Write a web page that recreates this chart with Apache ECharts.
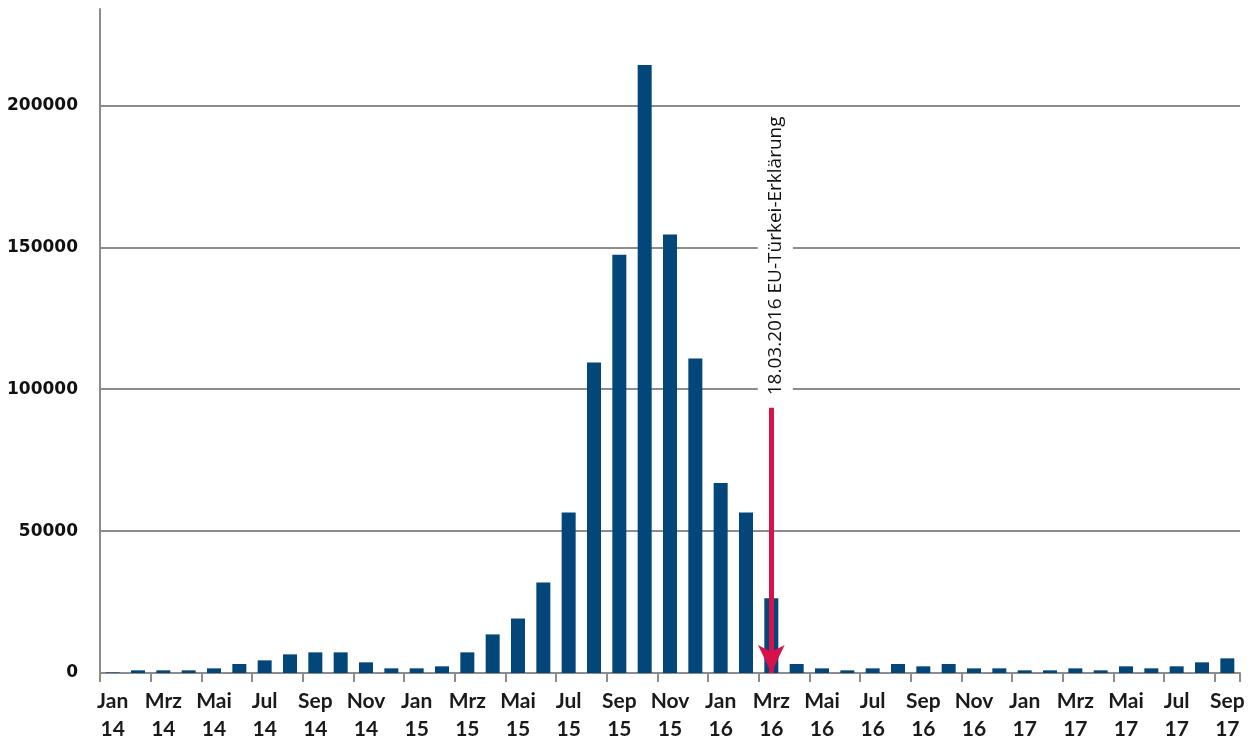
<!DOCTYPE html>
<html>
<head>
<meta charset="utf-8">
<script src="https://cdn.jsdelivr.net/npm/echarts@6/dist/echarts.min.js"></script>
<style>
html,body{margin:0;padding:0;background:#fff;}
#chart{width:1254px;height:743px;}
</style>
</head>
<body>
<div id="chart"></div>
<script>
// Categories: months Jan 2014 – Sep 2017
const categories = [
  'Jan\n14','Feb\n14','Mrz\n14','Apr\n14','Mai\n14','Jun\n14','Jul\n14','Aug\n14','Sep\n14','Okt\n14','Nov\n14','Dez\n14',
  'Jan\n15','Feb\n15','Mrz\n15','Apr\n15','Mai\n15','Jun\n15','Jul\n15','Aug\n15','Sep\n15','Okt\n15','Nov\n15','Dez\n15',
  'Jan\n16','Feb\n16','Mrz\n16','Apr\n16','Mai\n16','Jun\n16','Jul\n16','Aug\n16','Sep\n16','Okt\n16','Nov\n16','Dez\n16',
  'Jan\n17','Feb\n17','Mrz\n17','Apr\n17','Mai\n17','Jun\n17','Jul\n17','Aug\n17','Sep\n17'
];
// Monthly arrivals
const arrivals = [
  200, 940, 940, 940, 1640, 3170, 4460, 6570, 7280, 7280, 3760, 1640,
  1640, 2350, 7280, 13600, 19200, 31900, 56600, 109400, 147400, 214300, 154500, 110800,
  67000, 56600, 26300, 3170, 1640, 940, 1640, 3170, 2350, 3170, 1640, 1640,
  940, 940, 1640, 940, 2350, 1640, 2350, 3760, 5160
];
// Y-axis ticks
const yTicks = [0, 50000, 100000, 150000, 200000];
// Annotation
const eventCategory = 'Mrz\n16';
const eventLabel = '18.03.2016 EU-Türkei-Erklärung';
const arrowTop = 93450;
const labelCenter = 147000;

const chart = echarts.init(document.getElementById('chart'), null, {renderer: 'canvas'});
chart.setOption({
  animation: false,
  backgroundColor: '#ffffff',
  grid: {left: 100, right: 14, top: 9, bottom: 70, containLabel: false},
  xAxis: {
    type: 'category',
    data: categories,
    boundaryGap: true,
    axisLine: {show: true, lineStyle: {color: '#8c8c8c', width: 2}},
    axisTick: {show: true, interval: 1, length: 9, lineStyle: {color: '#8c8c8c', width: 2}},
    axisLabel: {
      interval: 1,
      margin: 14,
      color: '#1a1a1a',
      fontFamily: 'Lato',
      fontWeight: 'bold',
      fontSize: 21,
      lineHeight: 28
    },
    splitLine: {show: false}
  },
  yAxis: {
    type: 'value',
    min: 0,
    max: 234000,
    interval: 50000,
    axisLine: {show: true, lineStyle: {color: '#8c8c8c', width: 2}},
    axisTick: {show: false},
    axisLabel: {
      showMaxLabel: false,
      margin: 22,
      color: '#111111',
      fontFamily: '"DejaVu Sans", Verdana, sans-serif',
      fontWeight: 'bold',
      fontSize: 17,
      formatter: v => yTicks.indexOf(v) >= 0 ? String(v) : ''
    },
    splitLine: {show: true, showMaxLine: false, lineStyle: {color: '#8c8c8c', width: 2}}
  },
  series: [{
    type: 'bar',
    data: arrivals,
    barWidth: 14,
    itemStyle: {color: '#03467a'},
    markLine: {
      silent: true,
      symbol: ['none', 'arrow'],
      symbolSize: [20, 28],
      lineStyle: {color: '#d6124a', width: 5, type: 'solid'},
      label: {show: false},
      data: [[
        {coord: [eventCategory, arrowTop]},
        {coord: [eventCategory, 0]}
      ]]
    },
    markPoint: {
      silent: true,
      symbol: 'rect',
      symbolSize: 0,
      data: [{
        coord: [eventCategory, labelCenter],
        label: {
          show: true,
          formatter: eventLabel,
          position: 'inside',
          rotate: 90,
          offset: [0, 4],
          color: '#111111',
          fontFamily: '"Open Sans", sans-serif',
          fontSize: 19,
          backgroundColor: '#ffffff',
          padding: [8, 3, 8, 3]
        }
      }]
    }
  }]
});
</script>
</body>
</html>
